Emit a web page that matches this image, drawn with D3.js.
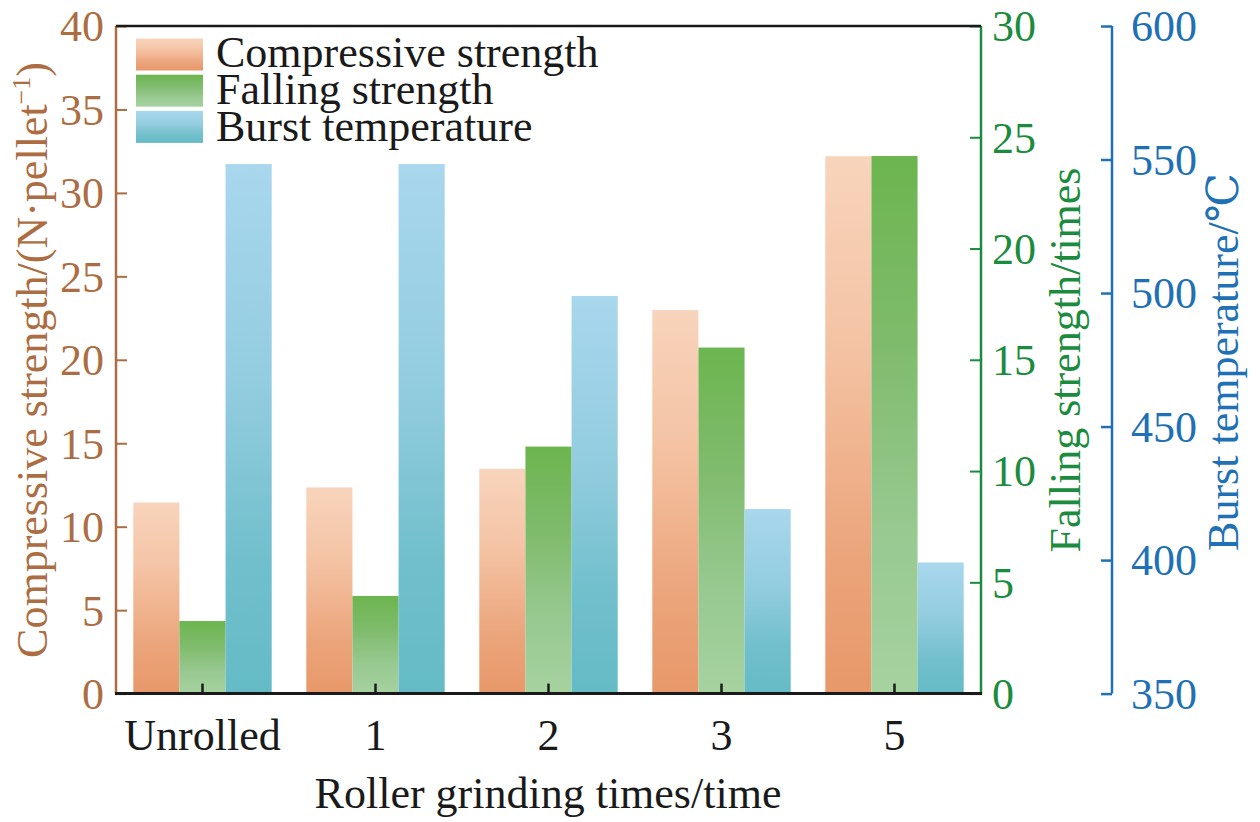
<!DOCTYPE html>
<html>
<head>
<meta charset="utf-8">
<script src="https://cdn.jsdelivr.net/npm/d3@7"></script>
<style>
  body { margin: 0; background: #fff; }
  svg { display: block; }
  text { font-family: "Liberation Serif", "Times New Roman", Times, "DejaVu Serif", serif; }
</style>
</head>
<body>
<svg id="chart" width="1260" height="822"></svg>
<script>
// donnees
const categories = ["Unrolled", "1", "2", "3", "5"];
const compressive = [11.45, 12.35, 13.47, 22.98, 32.2];
const falling = [3.26, 4.39, 11.1, 15.55, 24.16];
const burst = [548.3, 548.3, 498.9, 419.1, 399.1];
const leftTicks = [0, 5, 10, 15, 20, 25, 30, 35, 40];
const greenTicks = [0, 5, 10, 15, 20, 25, 30];
const blueTicks = [350, 400, 450, 500, 550, 600];

const brown = "#ab6d41";
const green = "#1b8c3e";
const blue = "#2070b6";
const police = "'Liberation Serif', 'Times New Roman', Times, 'DejaVu Serif', serif";

let svg = d3.select("#chart").attr("font-family", police);
let gauche = 116, droite = 981, haut = 26, bas = 693.6;

let x = d3.scaleBand().domain(categories).range([gauche, droite]).paddingInner(0.2).paddingOuter(0.1);
let xSub = d3.scaleBand().domain([0, 1, 2]).range([0, x.bandwidth()]);
let yLeft = d3.scaleLinear().domain([0, 40]).range([bas, haut]);
let yGreen = d3.scaleLinear().domain([0, 30]).range([bas, haut]);
let yBlue = d3.scaleLinear().domain([350, 600]).range([bas, haut]);

// degrades des barres
let defs = svg.append("defs");
let degrades = [
  { id: "gradComp", stops: [["0%", "#f8d4bc"], ["35%", "#f4c3a4"], ["75%", "#eba47a"], ["100%", "#e8986a"]] },
  { id: "gradFall", stops: [["0%", "#6cb54f"], ["35%", "#7fbb6c"], ["70%", "#98c991"], ["100%", "#a6d2a0"]] },
  { id: "gradBurst", stops: [["0%", "#a9d7ed"], ["40%", "#94cde0"], ["75%", "#71bfcc"], ["100%", "#64bbc6"]] }
];
degrades.forEach(function (g) {
  let lg = defs.append("linearGradient").attr("id", g.id)
    .attr("x1", 0).attr("y1", 0).attr("x2", 0).attr("y2", 1);
  g.stops.forEach(s => lg.append("stop").attr("offset", s[0]).attr("stop-color", s[1]));
});

let series = [
  { values: compressive, scale: yLeft, base: 0, fill: "url(#gradComp)" },
  { values: falling, scale: yGreen, base: 0, fill: "url(#gradFall)" },
  { values: burst, scale: yBlue, base: 350, fill: "url(#gradBurst)" }
];

series.forEach(function (s, k) {
  svg.append("g").selectAll("rect")
    .data(s.values)
    .join("rect")
    .attr("x", (d, i) => x(categories[i]) + xSub(k))
    .attr("width", xSub.bandwidth())
    .attr("y", d => s.scale(d))
    .attr("height", d => s.scale(s.base) - s.scale(d))
    .attr("fill", s.fill);
});

// axe gauche
let axeGauche = svg.append("g").attr("transform", `translate(${gauche},0)`)
  .call(d3.axisRight(yLeft).tickValues(leftTicks).tickSize(11).tickFormat(""));
axeGauche.select(".domain").remove();
axeGauche.selectAll("line").attr("stroke", brown).attr("stroke-width", 2);
svg.append("line").attr("x1", gauche).attr("x2", gauche).attr("y1", haut).attr("y2", bas)
  .attr("stroke", brown).attr("stroke-width", 2.5);
svg.append("g").selectAll("text").data(leftTicks).join("text")
  .attr("x", gauche - 12).attr("y", d => yLeft(d)).attr("dy", "0.35em")
  .attr("text-anchor", "end").attr("font-size", "44px").attr("fill", brown)
  .text(d => d);

// axe vert
let axeVert = svg.append("g").attr("transform", `translate(${droite},0)`)
  .call(d3.axisLeft(yGreen).tickValues(greenTicks).tickSize(11).tickFormat(""));
axeVert.select(".domain").remove();
axeVert.selectAll("line").attr("stroke", green).attr("stroke-width", 2);
svg.append("line").attr("x1", droite).attr("x2", droite).attr("y1", haut).attr("y2", bas)
  .attr("stroke", green).attr("stroke-width", 2.5);
svg.append("g").selectAll("text").data(greenTicks).join("text")
  .attr("x", droite + 11).attr("y", d => yGreen(d)).attr("dy", "0.35em")
  .attr("font-size", "44px").attr("fill", green)
  .text(d => d);

// axe bleu
let xBleu = 1112;
let axeBleu = svg.append("g").attr("transform", `translate(${xBleu},0)`)
  .call(d3.axisLeft(yBlue).tickValues(blueTicks).tickSize(11).tickFormat(""));
axeBleu.select(".domain").remove();
axeBleu.selectAll("line").attr("stroke", blue).attr("stroke-width", 2.5);
svg.append("line").attr("x1", xBleu).attr("x2", xBleu).attr("y1", haut).attr("y2", bas)
  .attr("stroke", blue).attr("stroke-width", 2.5);
svg.append("g").selectAll("text").data(blueTicks).join("text")
  .attr("x", xBleu + 19).attr("y", d => yBlue(d)).attr("dy", "0.35em")
  .attr("font-size", "44px").attr("fill", blue)
  .text(d => d);

// cadre haut et bas
svg.append("line").attr("x1", gauche).attr("x2", droite).attr("y1", haut).attr("y2", haut)
  .attr("stroke", "#1a1a1a").attr("stroke-width", 2.5);
svg.append("line").attr("x1", gauche - 1).attr("x2", droite + 1).attr("y1", bas).attr("y2", bas)
  .attr("stroke", "#1a1a1a").attr("stroke-width", 3);

// axe des categories
let axeX = svg.append("g").attr("transform", `translate(0,${bas})`)
  .call(d3.axisTop(x).tickSize(10).tickFormat(""));
axeX.select(".domain").remove();
axeX.selectAll("line").attr("stroke", "#1a1a1a").attr("stroke-width", 2.5);
svg.append("g").selectAll("text").data(categories).join("text")
  .attr("x", d => x(d) + x.bandwidth() / 2).attr("y", 750)
  .attr("text-anchor", "middle").attr("font-size", "44px").attr("fill", "#1a1a1a")
  .text(d => d);

svg.append("text").attr("x", 548).attr("y", 808)
  .attr("text-anchor", "middle").attr("font-size", "44px").attr("fill", "#1a1a1a")
  .text("Roller grinding times/time");

// titres des axes verticaux
let titreG = svg.append("text")
  .attr("transform", "translate(47,360) rotate(-90)")
  .attr("text-anchor", "middle").attr("font-size", "44px").attr("fill", brown);
titreG.append("tspan").text("Compressive strength/(N·pellet");
titreG.append("tspan").attr("font-size", "26px").attr("dy", "-17").text("−1");
titreG.append("tspan").attr("dy", "17").text(")");

svg.append("text")
  .attr("transform", "translate(1080,360) rotate(-90)")
  .attr("text-anchor", "middle").attr("font-size", "44px").attr("fill", green)
  .text("Falling strength/times");

svg.append("text")
  .attr("transform", "translate(1238,362) rotate(-90)")
  .attr("text-anchor", "middle").attr("font-size", "44px").attr("fill", blue)
  .text("Burst temperature/℃");

// legende
let legende = [
  { label: "Compressive strength", fill: "url(#gradComp)" },
  { label: "Falling strength", fill: "url(#gradFall)" },
  { label: "Burst temperature", fill: "url(#gradBurst)" }
];
let gLeg = svg.append("g");
gLeg.selectAll("rect").data(legende).join("rect")
  .attr("x", 136).attr("y", (d, i) => 38.5 + i * 36.2)
  .attr("width", 67).attr("height", 32)
  .attr("fill", d => d.fill);
gLeg.selectAll("text").data(legende).join("text")
  .attr("x", 216).attr("y", (d, i) => 66.5 + i * 37)
  .attr("font-size", "44px").attr("fill", "#1a1a1a")
  .text(d => d.label);
</script>
</body>
</html>
